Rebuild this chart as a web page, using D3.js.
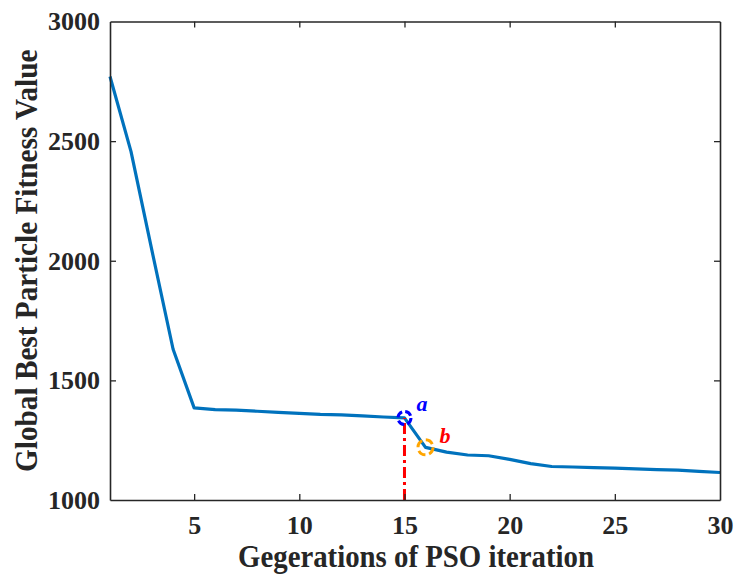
<!DOCTYPE html>
<html>
<head>
<meta charset="utf-8">
<script src="https://cdn.jsdelivr.net/npm/d3@7"></script>
<style>
  html, body { margin: 0; padding: 0; background: #fff; }
  svg { display: block; }
</style>
</head>
<body>
<svg id="chart" width="737" height="574"></svg>
<script>
// PSO convergence: global best fitness per generation
const generations = d3.range(1, 31);
const fitness = [2770, 2456, 2040, 1630, 1385, 1378, 1376, 1371, 1366, 1362,
                 1358, 1356, 1352, 1347, 1343, 1220, 1200, 1188, 1185, 1170,
                 1152, 1140, 1138, 1135, 1133, 1130, 1127, 1125, 1120, 1115];
const xTicks = [5, 10, 15, 20, 25, 30];
const yTicks = [1000, 1500, 2000, 2500, 3000];
const markA = { gen: 15, label: "a" };
const markB = { gen: 16, label: "b" };

const svg = d3.select("#chart");
const margin = { left: 110, right: 17, top: 21.5, bottom: 74 };
const W = 737, H = 574;
const x = d3.scaleLinear().domain([1, 30]).range([margin.left, W - margin.right]);
const y = d3.scaleLinear().domain([1000, 3000]).range([H - margin.bottom, margin.top]);

const font = "'Liberation Serif', 'Times New Roman', serif";
const axisColor = "#262626";

// Curve
svg.append("path")
  .datum(generations.map((g, i) => [g, fitness[i]]))
  .attr("fill", "none")
  .attr("stroke", "#0072BD")
  .attr("stroke-width", 3.2)
  .attr("stroke-linejoin", "round")
  .attr("d", d3.line().x(d => x(d[0])).y(d => y(d[1])));

// Vertical dash-dot marker at generation 15
const vA = fitness[markA.gen - 1];
svg.append("line")
  .attr("x1", x(markA.gen)).attr("x2", x(markA.gen))
  .attr("y1", y(1000)).attr("y2", y(vA))
  .attr("stroke", "#ff0000")
  .attr("stroke-width", 3)
  .attr("stroke-dasharray", "11,4,3,4");

// Dashed circles around points a and b
svg.append("circle")
  .attr("cx", x(markA.gen)).attr("cy", y(vA)).attr("r", 6.5)
  .attr("fill", "none").attr("stroke", "#0000ff").attr("stroke-width", 3)
  .attr("stroke-dasharray", "7,3.2");
const vB = fitness[markB.gen - 1];
svg.append("circle")
  .attr("cx", x(markB.gen)).attr("cy", y(vB)).attr("r", 7.5)
  .attr("fill", "none").attr("stroke", "#ffa500").attr("stroke-width", 3)
  .attr("stroke-dasharray", "8,3.8");

svg.append("text")
  .attr("x", x(markA.gen) + 12).attr("y", y(vA) - 7)
  .attr("font-family", font).attr("font-weight", "bold").attr("font-style", "italic")
  .attr("font-size", 22).attr("fill", "#0000ff")
  .text(markA.label);
svg.append("text")
  .attr("x", x(markB.gen) + 14).attr("y", y(vB) - 4)
  .attr("font-family", font).attr("font-weight", "bold").attr("font-style", "italic")
  .attr("font-size", 22).attr("fill", "#ff0000")
  .text(markB.label);

// Axes (box with inward ticks)
const tickLen = 6;
const fmt = d3.format("d");
const gx = svg.append("g")
  .attr("transform", `translate(0,${y(1000)})`)
  .call(d3.axisBottom(x).tickValues(xTicks).tickFormat(fmt).tickSizeInner(-tickLen).tickSizeOuter(0).tickPadding(16));
const gy = svg.append("g")
  .attr("transform", `translate(${x(1)},0)`)
  .call(d3.axisLeft(y).tickValues(yTicks).tickFormat(fmt).tickSizeInner(-tickLen).tickSizeOuter(0).tickPadding(10));
const gxt = svg.append("g")
  .attr("transform", `translate(0,${y(3000)})`)
  .call(d3.axisTop(x).tickValues(xTicks).tickSizeInner(-tickLen).tickSizeOuter(0).tickFormat(""));
const gyr = svg.append("g")
  .attr("transform", `translate(${x(30)},0)`)
  .call(d3.axisRight(y).tickValues(yTicks).tickSizeInner(-tickLen).tickSizeOuter(0).tickFormat(""));

[gx, gy, gxt, gyr].forEach(g => {
  g.select(".domain").attr("stroke", axisColor).attr("stroke-width", 1.6);
  g.selectAll(".tick line").attr("stroke", axisColor).attr("stroke-width", 1.3);
  g.selectAll(".tick text")
    .attr("font-family", font).attr("font-weight", "bold")
    .attr("font-size", 26).attr("fill", axisColor);
});
// Ticks at the box corners are hidden
gxt.selectAll(".tick").filter(d => d === 30).select("line").remove();
gyr.selectAll(".tick").filter(d => d === 1000 || d === 3000).select("line").remove();
gy.selectAll(".tick").filter(d => d === 1000 || d === 3000).select("line").remove();
gx.selectAll(".tick").filter(d => d === 30).select("line").remove();

// Axis titles (slightly condensed bold serif)
const xc = (x(1) + x(30)) / 2 + 1;
svg.append("text")
  .attr("transform", `translate(${xc},567) scale(0.9,1)`)
  .attr("text-anchor", "middle")
  .attr("font-family", font).attr("font-weight", "bold")
  .attr("font-size", 32).attr("fill", axisColor)
  .text("Gegerations of PSO iteration");
svg.append("text")
  .attr("transform", `translate(37,${(y(1000) + y(3000)) / 2}) rotate(-90) scale(0.9,1)`)
  .attr("text-anchor", "middle")
  .attr("font-family", font).attr("font-weight", "bold")
  .attr("font-size", 32.5).attr("fill", axisColor)
  .text("Global Best Particle Fitness Value");
</script>
</body>
</html>
